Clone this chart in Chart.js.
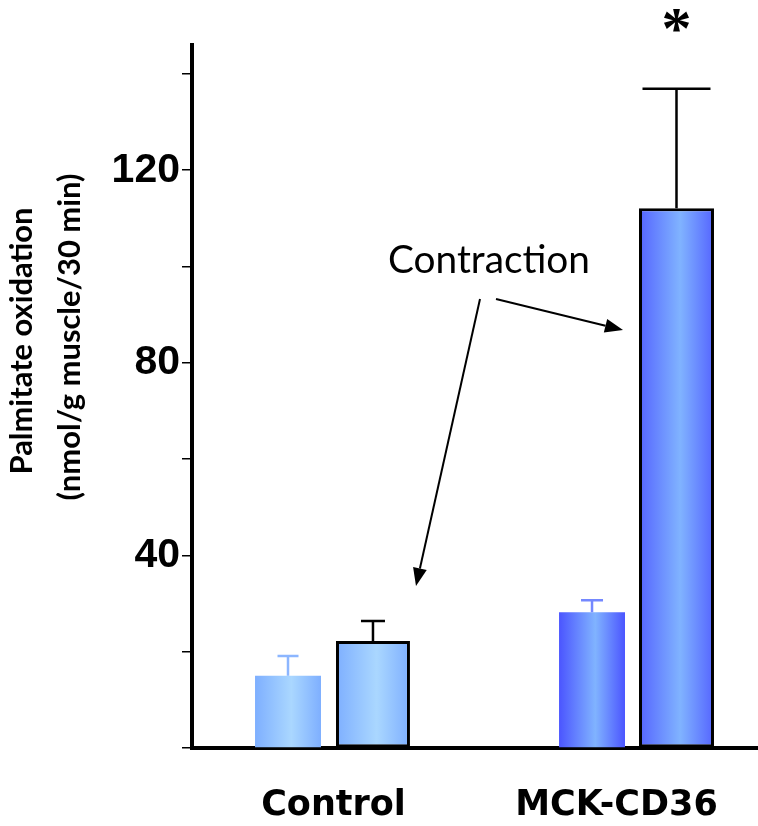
<!DOCTYPE html>
<html>
<head>
<meta charset="utf-8">
<script src="https://cdn.jsdelivr.net/npm/chart.js@4"></script>
<style>
  html, body { margin: 0; padding: 0; background: #fff; }
  #wrap { width: 758px; height: 826px; }
</style>
</head>
<body>
<div id="wrap"><canvas id="chart" width="758" height="826"></canvas></div>
<script>
const GROUPS = ['Control', 'MCK-CD36'];
const BASAL = [15.0, 28.2];
const BASAL_ERR = [4.1, 2.5];
const CONTRACTION = [22.2, 112.1];
const CONTRACTION_ERR = [4.2, 24.8];
const Y_LABELED = [40, 80, 120];
const Y_MAX = 146;

// one dataset per bar so each can sit where the figure puts it
const BAR_STYLE = [
  { group: 0, cat: 0.643, bar: 0.725, edge: '#7eafff', mid: '#aad7ff', border: 0, err: '#8cb6ff', cap: 21 },
  { group: 0, cat: 0.558, bar: 0.937, edge: '#7eafff', mid: '#aad7ff', border: 3, err: '#000000', cap: 24 },
  { group: 1, cat: 0.346, bar: 1.347, edge: '#4b55ff', mid: '#80b3ff', border: 0, err: '#7488ff', cap: 22 },
  { group: 1, cat: 0.848, bar: 0.625, edge: '#5565ff', mid: '#80b3ff', border: 3, err: '#000000', cap: 68 }
];

function onlyAt(arr, i) {
  return arr.map((v, j) => (j === i ? v : null));
}

function barFill(edge, mid) {
  return (c) => {
    const el = c.element;
    if (!el || !isFinite(el.x) || !el.width) return mid;
    const g = c.chart.ctx.createLinearGradient(el.x - el.width / 2, 0, el.x + el.width / 2, 0);
    g.addColorStop(0, edge);
    g.addColorStop(0.55, mid);
    g.addColorStop(1, edge);
    return g;
  };
}

const datasets = BAR_STYLE.map((s, i) => {
  const contraction = i % 2 === 1;
  const values = contraction ? CONTRACTION : BASAL;
  const errs = contraction ? CONTRACTION_ERR : BASAL_ERR;
  return {
    label: contraction ? 'Contraction' : 'Basal',
    data: onlyAt(values, s.group),
    errors: onlyAt(errs, s.group),
    errColor: s.err,
    capWidth: s.cap,
    backgroundColor: barFill(s.edge, s.mid),
    borderColor: '#000',
    borderWidth: s.border,
    borderSkipped: false,
    categoryPercentage: s.cat,
    barPercentage: s.bar,
    skipNull: true
  };
});

const errorBars = {
  id: 'errorBars',
  afterDatasetsDraw(chart) {
    const { ctx, scales: { y } } = chart;
    chart.data.datasets.forEach((ds, i) => {
      const meta = chart.getDatasetMeta(i);
      ds.data.forEach((v, j) => {
        if (v == null) return;
        const el = meta.data[j];
        const top = y.getPixelForValue(v + ds.errors[j]);
        ctx.save();
        ctx.strokeStyle = ds.errColor;
        ctx.lineWidth = 2.5;
        ctx.beginPath();
        ctx.moveTo(el.x, el.y);
        ctx.lineTo(el.x, top);
        ctx.moveTo(el.x - ds.capWidth / 2, top);
        ctx.lineTo(el.x + ds.capWidth / 2, top);
        ctx.stroke();
        ctx.restore();
      });
    });
  }
};

// draws text at a given size, squeezed along its run to a target width
function fittedText(ctx, text, font, width, x, y) {
  ctx.font = font;
  const w = ctx.measureText(text).width;
  ctx.save();
  ctx.translate(x, y);
  ctx.scale(width / w, 1);
  ctx.fillText(text, 0, 0);
  ctx.restore();
}

function arrow(ctx, x1, y1, x2, y2) {
  const a = Math.atan2(y2 - y1, x2 - x1);
  const len = 18, half = 7;
  const bx = x2 - len * Math.cos(a), by = y2 - len * Math.sin(a);
  ctx.beginPath();
  ctx.moveTo(x1, y1);
  ctx.lineTo(bx, by);
  ctx.stroke();
  ctx.beginPath();
  ctx.moveTo(x2, y2);
  ctx.lineTo(bx + half * Math.sin(a), by - half * Math.cos(a));
  ctx.lineTo(bx - half * Math.sin(a), by + half * Math.cos(a));
  ctx.closePath();
  ctx.fill();
}

const annotations = {
  id: 'annotations',
  afterDraw(chart) {
    const { ctx, scales: { y } } = chart;
    ctx.save();
    ctx.fillStyle = '#000';
    ctx.strokeStyle = '#000';

    // y axis title, two rotated lines
    ctx.textAlign = 'center';
    ctx.textBaseline = 'alphabetic';
    ctx.save();
    ctx.translate(32, 341);
    ctx.rotate(-Math.PI / 2);
    fittedText(ctx, 'Palmitate oxidation', 'bold 30px Lato', 267, 0, 0);
    ctx.restore();
    ctx.save();
    ctx.translate(80, 337);
    ctx.rotate(-Math.PI / 2);
    fittedText(ctx, '(nmol/g muscle/30 min)', 'bold 30px Lato', 327, 0, 0);
    ctx.restore();

    // "Contraction" label with arrows
    ctx.textAlign = 'left';
    fittedText(ctx, 'Contraction', 'normal 38px Lato', 202, 388, 273);
    ctx.lineWidth = 2;
    arrow(ctx, 480, 299, 416, 586);
    arrow(ctx, 496, 299, 623, 330);

    // significance star over the MCK-CD36 contraction bar
    const el = chart.getDatasetMeta(3).data[1];
    const errTop = y.getPixelForValue(CONTRACTION[1] + CONTRACTION_ERR[1]);
    ctx.font = 'bold 60px "Liberation Serif"';
    ctx.textAlign = 'center';
    const m = ctx.measureText('*');
    const cy = errTop - 68;
    ctx.fillText('*', el.x, cy + (m.actualBoundingBoxAscent - m.actualBoundingBoxDescent) / 2);
    ctx.restore();
  }
};

const chart = new Chart(document.getElementById('chart'), {
  type: 'bar',
  data: { labels: GROUPS, datasets },
  plugins: [errorBars, annotations],
  options: {
    responsive: false,
    animation: false,
    layout: { padding: { top: 45, left: 0, right: 0, bottom: 0 } },
    plugins: { legend: { display: false }, tooltip: { enabled: false } },
    scales: {
      x: {
        grid: { display: false, drawTicks: false },
        border: { display: true, color: '#000', width: 4 },
        ticks: {
          color: '#000',
          padding: 37,
          maxRotation: 0,
          autoSkip: false,
          font: { family: '"DejaVu Sans"', weight: 'bold', size: 35 }
        },
        afterFit: (s) => { s.height = 78; }
      },
      y: {
        min: 0,
        max: Y_MAX,
        grid: { drawOnChartArea: false, drawTicks: true, tickLength: 10, color: '#000', lineWidth: 1.5 },
        border: { display: true, color: '#000', width: 4 },
        ticks: {
          stepSize: 20,
          includeBounds: false,
          autoSkip: false,
          padding: 2,
          color: '#000',
          font: { family: '"Liberation Sans"', weight: 'bold', size: 41 },
          callback: (v) => (Y_LABELED.includes(v) ? v : '')
        },
        afterFit: (s) => { s.width = 192; }
      }
    }
  }
});
// second pass so the gradients can read each bar's final position
chart.update();
</script>
</body>
</html>
